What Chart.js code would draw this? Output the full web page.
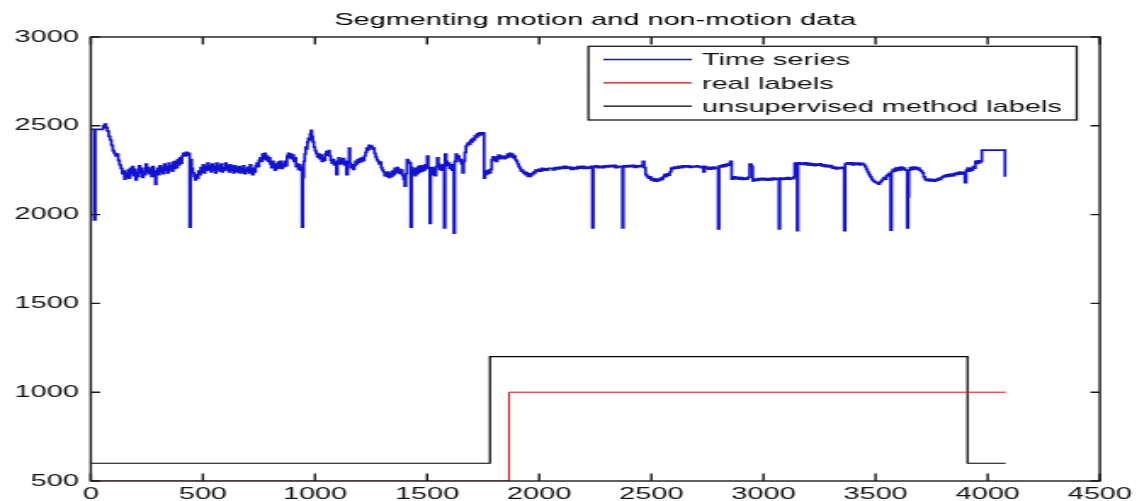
<!DOCTYPE html>
<html>
<head>
<meta charset="utf-8">
<script src="https://cdn.jsdelivr.net/npm/chart.js@4.4.1/dist/chart.umd.min.js"></script>
<style>
  html, body { margin: 0; padding: 0; background: #fff; overflow: hidden; }
  #wrap { position: absolute; left: 0; top: 0; width: 669px; height: 501px;
          transform: scaleX(1.6996); transform-origin: 0 0; }
</style>
</head>
<body>
<div id="wrap"><canvas id="c" width="669" height="501"></canvas></div>
<script>
// ---------------- data ----------------
const chartTitle = 'Segmenting motion and non-motion data';
const seriesNames = ['Time series', 'real labels', 'unsupervised method labels'];
const xTicks = [0, 500, 1000, 1500, 2000, 2500, 3000, 3500, 4000, 4500];
const yTicks = [500, 1000, 1500, 2000, 2500, 3000];

// time series: [sample index, value] pairs
const timeSeries = [
[0,2480],[15,1970],[20,2480],[55,2500],[62,2510],[68,2490],[74,2470],[80,2440],[86,2420],[92,2390],[98,2360],[104,2345],[110,2330],[116,2340],[122,2305],[128,2280],[134,2260],[140,2230],[146,2245],
[150,2200],[155,2235],[160,2210],[165,2250],[170,2205],[175,2260],[180,2230],[185,2270],[190,2220],[195,2255],[200,2195],[205,2240],[210,2215],[215,2275],[220,2235],[225,2260],[230,2210],[235,2245],[240,2225],[245,2285],[250,2240],[255,2265],[260,2230],[265,2255],[270,2215],[275,2270],[280,2245],[285,2225],[288,2170],[292,2235],[297,2260],[302,2225],[307,2275],[312,2240],[317,2265],[322,2230],[327,2285],[332,2250],[337,2270],[342,2235],[347,2290],[352,2255],[357,2275],[362,2245],[367,2295],[372,2260],[377,2300],[382,2265],[387,2310],[392,2280],[397,2320],[402,2290],[407,2330],[412,2345],[418,2330],[424,2350],[430,2335],[436,2345],[441,1930],[445,2310],[450,2260],[455,2235],[460,2215],[465,2195],[470,2225],[475,2205],[480,2245],[485,2225],[490,2265],[495,2240],[500,2280],[505,2235],[510,2270],[515,2250],[520,2290],[525,2255],[530,2275],[535,2240],[540,2285],[545,2250],[550,2270],[555,2235],[560,2290],[565,2255],[570,2275],[575,2245],[580,2285],[585,2240],[590,2265],[595,2250],[600,2290],[605,2255],[610,2275],[615,2240],[620,2280],[625,2250],[630,2270],[635,2235],[640,2275],[645,2245],[650,2265],[655,2240],[660,2270],[665,2235],[670,2260],[675,2240],[680,2275],[685,2230],[690,2255],[695,2245],[700,2265],[705,2235],[710,2280],[715,2245],[720,2225],[725,2260],[730,2240],[735,2275],[740,2290],[745,2270],[750,2305],[755,2320],[760,2300],[765,2340],[770,2315],[775,2345],[780,2310],[785,2330],[790,2300],[795,2320],[800,2285],[805,2265],[810,2300],[815,2270],[820,2250],[825,2285],[830,2260],[835,2295],[840,2265],[845,2300],[850,2260],[855,2285],[860,2270],[865,2300],[870,2275],[875,2330],[880,2345],[885,2320],[890,2340],[895,2315],[900,2335],[905,2300],[910,2320],[915,2270],[920,2285],[925,2255],[930,2280],[935,2250],[940,2265],[942,1930],[946,2210],
[950,2300],[954,2340],[958,2380],[962,2370],[966,2410],[970,2430],[974,2420],[978,2455],[982,2475],[986,2440],[990,2410],[995,2380],[1000,2360],[1005,2345],[1010,2325],[1015,2340],[1020,2315],[1025,2335],[1030,2300],[1035,2320],[1040,2305],[1045,2340],[1050,2355],[1055,2335],[1060,2360],[1065,2330],[1070,2305],[1075,2290],[1080,2310],[1085,2280],[1090,2295],[1095,2225],[1100,2300],[1105,2320],[1110,2285],[1115,2310],[1120,2290],[1125,2315],[1130,2280],[1135,2300],[1140,2225],[1146,2290],[1152,2375],[1156,2290],[1160,2265],[1165,2280],[1170,2255],[1175,2275],[1180,2300],[1185,2285],[1190,2310],[1195,2295],[1200,2315],[1205,2300],[1210,2320],[1215,2305],[1220,2330],[1225,2350],[1230,2375],[1235,2365],[1240,2390],[1245,2380],[1250,2385],[1255,2370],[1260,2375],[1265,2345],[1270,2325],[1275,2310],[1280,2300],[1285,2285],[1290,2295],[1295,2265],[1300,2250],[1305,2240],[1310,2220],[1315,2235],[1320,2215],[1325,2240],[1330,2210],[1335,2230],[1340,2215],[1345,2245],[1350,2225],
[1355,2260],[1360,2240],[1365,2265],[1370,2235],[1375,2255],[1380,2230],[1385,2250],[1390,2220],[1395,2200],[1400,2160],[1405,2230],[1410,2310],[1415,2300],[1420,2290],[1427,1930],[1431,2265],[1435,2230],[1440,2255],[1445,2220],[1450,2260],[1455,2230],[1460,2270],[1465,2240],[1470,2275],[1475,2245],[1480,2270],[1485,2250],[1490,2280],[1495,2260],[1500,2330],[1505,2265],[1512,1950],[1516,2245],[1520,2265],[1525,2225],[1530,2260],[1535,2220],[1540,2270],[1545,2320],[1550,2285],[1555,2255],[1560,2275],[1565,2250],[1570,2280],[1576,1925],[1580,2340],[1585,2300],[1590,2275],[1595,2290],[1600,2260],[1605,2280],[1610,2250],[1615,2265],[1619,1895],[1623,2300],[1628,2340],[1633,2315],[1638,2330],[1643,2300],[1648,2310],[1653,2285],[1658,2235],[1663,2300],[1668,2350],[1673,2385],[1678,2395],[1683,2405],[1688,2395],[1693,2420],[1698,2410],[1703,2430],[1708,2420],[1713,2445],[1718,2435],[1723,2455],[1728,2445],[1733,2460],[1738,2450],[1744,2460],[1754,2205],[1758,2225],[1763,2245],[1768,2230],[1773,2250],[1778,2235],[1783,2255],[1788,2310],[1793,2325],[1798,2305],[1803,2320],[1808,2300],[1813,2325],[1818,2335],[1823,2315],[1828,2330],[1833,2320],[1838,2325],[1843,2315],[1848,2330],[1853,2320],[1858,2340],[1863,2325],[1868,2345],[1873,2330],[1878,2340],[1883,2320],[1888,2330],[1893,2310],[1898,2300],[1903,2285],[1908,2270],[1913,2260],[1918,2245],[1923,2250],[1928,2235],[1933,2240],[1938,2225],[1943,2235],[1948,2215],[1953,2230],[1958,2215],[1963,2230],[1968,2225],[1973,2240],[1978,2235],[1983,2250],[1990,2245],[1997,2255],[2004,2245],[2011,2260],[2018,2250],[2025,2258],[2032,2250],[2040,2260],
[2050,2260],[2060,2252],[2070,2265],[2080,2258],[2090,2268],[2100,2260],[2110,2272],[2120,2262],[2130,2268],[2140,2255],[2150,2265],[2160,2258],[2170,2270],[2180,2262],[2190,2272],[2200,2260],[2210,2268],[2220,2262],[2230,2272],[2237,1925],[2241,2268],[2250,2275],[2260,2265],[2270,2272],[2280,2265],[2290,2275],[2300,2268],[2310,2276],[2320,2270],[2330,2278],[2340,2265],[2350,2272],[2360,2268],[2371,1925],[2375,2275],[2385,2268],[2395,2276],[2405,2270],[2415,2278],[2425,2266],[2435,2274],[2445,2270],[2455,2278],[2462,2300],[2468,2265],[2474,2225],[2480,2215],[2486,2205],[2492,2212],[2498,2195],[2504,2202],[2510,2190],[2516,2200],[2522,2188],[2528,2198],[2534,2192],[2540,2205],[2546,2198],[2552,2212],[2558,2225],[2564,2215],[2570,2230],[2576,2222],[2582,2240],[2588,2262],[2594,2258],[2600,2268],[2610,2262],[2620,2272],[2630,2265],[2640,2275],[2650,2268],[2660,2274],[2670,2266],[2680,2272],[2690,2268],[2700,2275],[2710,2268],[2720,2265],[2728,2272],[2732,2240],[2738,2270],
[2746,2262],[2754,2256],[2762,2266],[2770,2258],[2778,2268],[2786,2260],[2798,1920],[2802,2275],[2810,2268],[2818,2280],[2826,2272],[2834,2284],[2842,2278],[2850,2292],[2852,2300],[2858,2200],[2866,2212],[2874,2202],[2882,2210],[2890,2200],[2898,2208],[2906,2198],[2914,2206],[2922,2200],[2930,2210],[2938,2285],[2946,2272],[2952,2190],[2960,2200],[2968,2192],[2976,2202],[2984,2195],[2992,2204],[3000,2196],[3008,2203],[3016,2194],[3024,2202],[3032,2196],[3040,2206],[3048,2198],[3056,2204],[3069,1920],[3073,2205],[3081,2198],[3089,2206],[3097,2200],[3105,2208],[3113,2200],[3121,2206],[3129,2202],[3135,2212],[3139,2290],[3150,1910],[3154,2292],[3162,2284],[3170,2290],[3178,2282],[3186,2292],[3194,2280],[3202,2288],[3210,2278],[3218,2286],[3226,2276],[3234,2284],[3242,2278],[3250,2286],[3258,2274],[3266,2280],[3274,2270],[3282,2278],[3290,2268],[3298,2276],[3306,2262],[3314,2268],[3322,2258],[3330,2264],[3340,2260],[3350,2266],[3360,1910],[3364,2285],[3372,2292],[3380,2284],[3388,2292],[3396,2280],[3404,2290],[3412,2282],[3420,2290],[3428,2280],[3436,2288],[3444,2282],
[3452,2270],[3458,2255],[3464,2240],[3470,2225],[3476,2212],[3482,2200],[3488,2190],[3494,2185],[3500,2180],[3506,2178],[3512,2172],[3518,2182],[3524,2190],[3530,2198],[3536,2208],[3542,2200],[3548,2218],[3554,2225],[3560,2232],[3567,1912],[3571,2242],[3577,2255],[3583,2245],[3589,2262],[3595,2250],[3601,2265],[3607,2252],[3613,2268],[3619,2255],[3625,2262],[3631,2250],[3641,1925],[3645,2100],[3648,2250],[3654,2265],[3660,2255],[3666,2268],[3672,2258],[3678,2266],[3684,2255],[3690,2262],[3696,2250],[3702,2245],[3708,2235],[3714,2212],[3720,2200],[3726,2192],[3732,2200],[3738,2190],[3744,2198],[3750,2190],[3756,2196],[3762,2188],[3768,2198],[3774,2194],[3780,2204],[3786,2198],[3792,2208],[3798,2212],[3804,2220],[3810,2214],[3816,2224],[3822,2216],[3828,2226],[3834,2218],[3840,2228],[3846,2220],[3852,2232],[3858,2226],[3864,2236],[3870,2228],[3876,2240],[3882,2230],[3888,2238],[3894,2228],[3898,2180],[3904,2250],[3910,2262],[3916,2245],[3922,2260],[3928,2250],[3934,2270],[3940,2262],[3945,2300],[3950,2288],[3956,2302],[3962,2292],[3968,2300],[3974,2363],[4077,2213]
];

// label series: start of each segment and its level
const realX = [0, 1865, 4080];
const realY = [500, 1000, 1000];
const unsupX = [0, 1780, 3910, 4080];
const unsupY = [600, 1200, 600, 600];

// ---------------- chart ----------------
const pts = (xs, ys) => xs.map((x, i) => ({ x: x, y: ys[i] }));
const tsX = timeSeries.map(p => p[0]);
const tsY = timeSeries.map(p => p[1]);
const colors = ['#1212d6', '#d01010', '#000000'];
const widths = [1.7, 1, 1.2];

Chart.defaults.font.family = "'Liberation Sans', Arial, sans-serif";
Chart.defaults.font.size = 17;
Chart.defaults.color = '#111';

const frame = {
  id: 'frame',
  afterDatasetsDraw(chart) {
    const ctx = chart.ctx, a = chart.chartArea, xs = chart.scales.x, ys = chart.scales.y;
    ctx.save();
    ctx.strokeStyle = '#1a1a1a';
    ctx.lineWidth = 1.4;
    ctx.strokeRect(a.left, a.top, a.right - a.left, a.bottom - a.top);
    ctx.beginPath();
    xs.ticks.forEach(t => {
      const px = xs.getPixelForValue(t.value);
      ctx.moveTo(px, a.bottom); ctx.lineTo(px, a.bottom - 7.5);
      ctx.moveTo(px, a.top); ctx.lineTo(px, a.top + 7.5);
    });
    ys.ticks.forEach(t => {
      const py = ys.getPixelForValue(t.value);
      ctx.moveTo(a.left, py); ctx.lineTo(a.left + 5.5, py);
      ctx.moveTo(a.right, py); ctx.lineTo(a.right - 5.5, py);
    });
    ctx.stroke();

    // legend box (MATLAB style, inside the axes, top right)
    const bx1 = 346.2, bx2 = 633.5, by1 = 46.3, by2 = 120;
    ctx.fillStyle = '#ffffff';
    ctx.fillRect(bx1, by1, bx2 - bx1, by2 - by1);
    ctx.lineWidth = 1.3;
    ctx.strokeStyle = '#1a1a1a';
    ctx.strokeRect(bx1, by1, bx2 - bx1, by2 - by1);
    ctx.font = "17px 'Liberation Sans', Arial, sans-serif";
    ctx.textBaseline = 'middle';
    ctx.textAlign = 'left';
    seriesNames.forEach((name, i) => {
      const yy = 59.5 + i * 23.3;
      ctx.beginPath();
      ctx.strokeStyle = colors[i];
      ctx.lineWidth = 1.3;
      ctx.moveTo(355, yy); ctx.lineTo(407, yy);
      ctx.stroke();
      ctx.fillStyle = '#111';
      ctx.fillText(name, 413, yy + 1.2);
    });
    ctx.restore();
  }
};

new Chart(document.getElementById('c'), {
  type: 'line',
  data: {
    datasets: [
      { label: seriesNames[0], data: pts(tsX, tsY), borderColor: colors[0], borderWidth: widths[0], stepped: 'before', pointRadius: 0, fill: false },
      { label: seriesNames[1], data: pts(realX, realY), borderColor: colors[1], borderWidth: widths[1], stepped: 'before', pointRadius: 0, fill: false },
      { label: seriesNames[2], data: pts(unsupX, unsupY), borderColor: colors[2], borderWidth: widths[2], stepped: 'before', pointRadius: 0, fill: false }
    ]
  },
  options: {
    responsive: false,
    animation: false,
    devicePixelRatio: 1,
    layout: { padding: { left: 0, right: 21.8, top: 0, bottom: 0 } },
    plugins: {
      legend: { display: false },
      tooltip: { enabled: false },
      title: {
        display: true, text: chartTitle, fullSize: false,
        color: '#000', font: { size: 17, weight: 'normal' },
        padding: { top: 10, bottom: 6.6 }
      }
    },
    scales: {
      x: {
        type: 'linear', min: 0, max: 4500,
        grid: { display: false, drawTicks: false },
        border: { display: false },
        afterBuildTicks: ax => { ax.ticks = xTicks.map(v => ({ value: v })); },
        afterFit: ax => { ax.height = 20; },
        ticks: { autoSkip: false, maxRotation: 0, padding: 3, color: '#111',
                 callback: v => String(v) }
      },
      y: {
        type: 'linear', min: 500, max: 3000,
        grid: { display: false, drawTicks: false },
        border: { display: false },
        afterBuildTicks: ax => { ax.ticks = yTicks.map(v => ({ value: v })); },
        afterFit: ax => { ax.width = 53.4; },
        ticks: { padding: 7, color: '#111', callback: v => String(v) }
      }
    }
  },
  plugins: [frame]
});
</script>
</body>
</html>
